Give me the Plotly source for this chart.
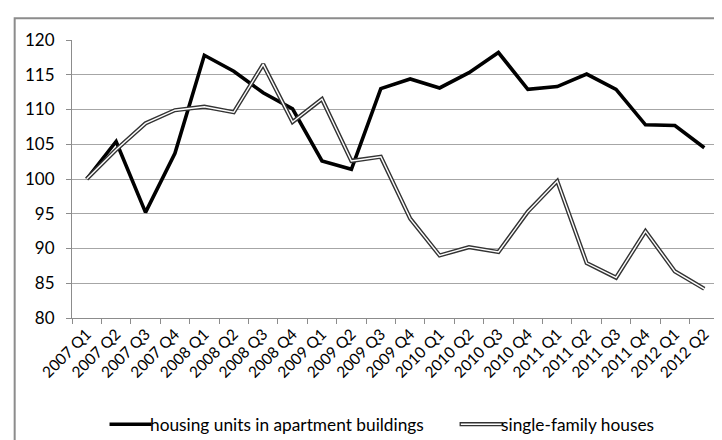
import plotly.graph_objects as go

quarters = ["2007 Q1", "2007 Q2", "2007 Q3", "2007 Q4",
            "2008 Q1", "2008 Q2", "2008 Q3", "2008 Q4",
            "2009 Q1", "2009 Q2", "2009 Q3", "2009 Q4",
            "2010 Q1", "2010 Q2", "2010 Q3", "2010 Q4",
            "2011 Q1", "2011 Q2", "2011 Q3", "2011 Q4",
            "2012 Q1", "2012 Q2"]

apartments = [100.0, 105.4, 95.2, 103.7, 117.8, 115.5, 112.4, 110.1,
              102.6, 101.4, 113.0, 114.4, 113.1, 115.3, 118.2, 112.9,
              113.3, 115.1, 112.9, 107.8, 107.7, 104.5]

single_family = [100.0, 104.2, 108.0, 109.9, 110.4, 109.6, 116.5, 108.2,
                 111.5, 102.6, 103.2, 94.3, 89.0, 90.2, 89.5, 95.3,
                 99.7, 87.9, 85.8, 92.5, 86.7, 84.2]

y_ticks = [80, 85, 90, 95, 100, 105, 110, 115, 120]

name_apartments = "housing units in apartment buildings"
name_single = "single-family houses"

FONT = "Lato, Calibri, Carlito, sans-serif"

fig = go.Figure()

fig.add_trace(go.Scatter(
    x=quarters, y=apartments, mode="lines", name=name_apartments,
    line=dict(color="#000000", width=3.6), showlegend=False, hoverinfo="skip"))

fig.add_trace(go.Scatter(
    x=quarters, y=single_family, mode="lines", name=name_single,
    line=dict(color="#333333", width=4.2), showlegend=False))
fig.add_trace(go.Scatter(
    x=quarters, y=single_family, mode="lines", name=name_single,
    line=dict(color="#ffffff", width=1.4), showlegend=False, hoverinfo="skip"))

# manual legend (line samples + labels); paper coords of the 647x278 plot area
legend_y = -0.382
shapes = [
    dict(type="rect", xref="paper", yref="paper",
         x0=-0.0886, x1=1.2, y0=-0.6, y1=1.078,
         line=dict(color="#8c8c8c", width=2), fillcolor="rgba(0,0,0,0)", layer="below"),
    dict(type="line", xref="paper", yref="paper",
         x0=0.058, x1=0.123, y0=legend_y, y1=legend_y,
         line=dict(color="#000000", width=3.6)),
    dict(type="line", xref="paper", yref="paper",
         x0=0.599, x1=0.666, y0=legend_y, y1=legend_y,
         line=dict(color="#333333", width=4.2)),
    dict(type="line", xref="paper", yref="paper",
         x0=0.601, x1=0.664, y0=legend_y, y1=legend_y,
         line=dict(color="#ffffff", width=1.4)),
]
annotations = [
    dict(text=name_apartments, xref="paper", yref="paper", x=0.117, y=legend_y,
         xanchor="left", yanchor="middle", showarrow=False,
         font=dict(family=FONT, size=17.3, color="#000000")),
    dict(text=name_single, xref="paper", yref="paper", x=0.660, y=legend_y,
         xanchor="left", yanchor="middle", showarrow=False,
         font=dict(family=FONT, size=17.3, color="#000000")),
]

fig.update_layout(
    width=722, height=440,
    margin=dict(l=64, r=11, t=32, b=130),
    paper_bgcolor="#ffffff", plot_bgcolor="#ffffff",
    font=dict(family=FONT, color="#000000"),
    showlegend=False,
    shapes=shapes,
    annotations=annotations,
    xaxis=dict(
        type="category", tickangle=-45,
        showgrid=False, showline=True, linecolor="#8c8c8c", linewidth=1,
        ticks="outside", ticklen=5, tickcolor="#8c8c8c", tickson="boundaries",
        tickfont=dict(family=FONT, size=15.5, color="#000000"),
        range=[-0.5, len(quarters) - 0.5], fixedrange=True,
    ),
    yaxis=dict(
        range=[80, 120], tickvals=y_ticks,
        showgrid=True, gridcolor="#a6a6a6", gridwidth=1,
        showline=True, linecolor="#8c8c8c", linewidth=1,
        ticks="outside", ticklen=5, tickcolor="#8c8c8c",
        ticklabelstandoff=8,
        tickfont=dict(family=FONT, size=17, color="#000000"),
        zeroline=False, fixedrange=True,
    ),
)

fig.write_html("out.html")
